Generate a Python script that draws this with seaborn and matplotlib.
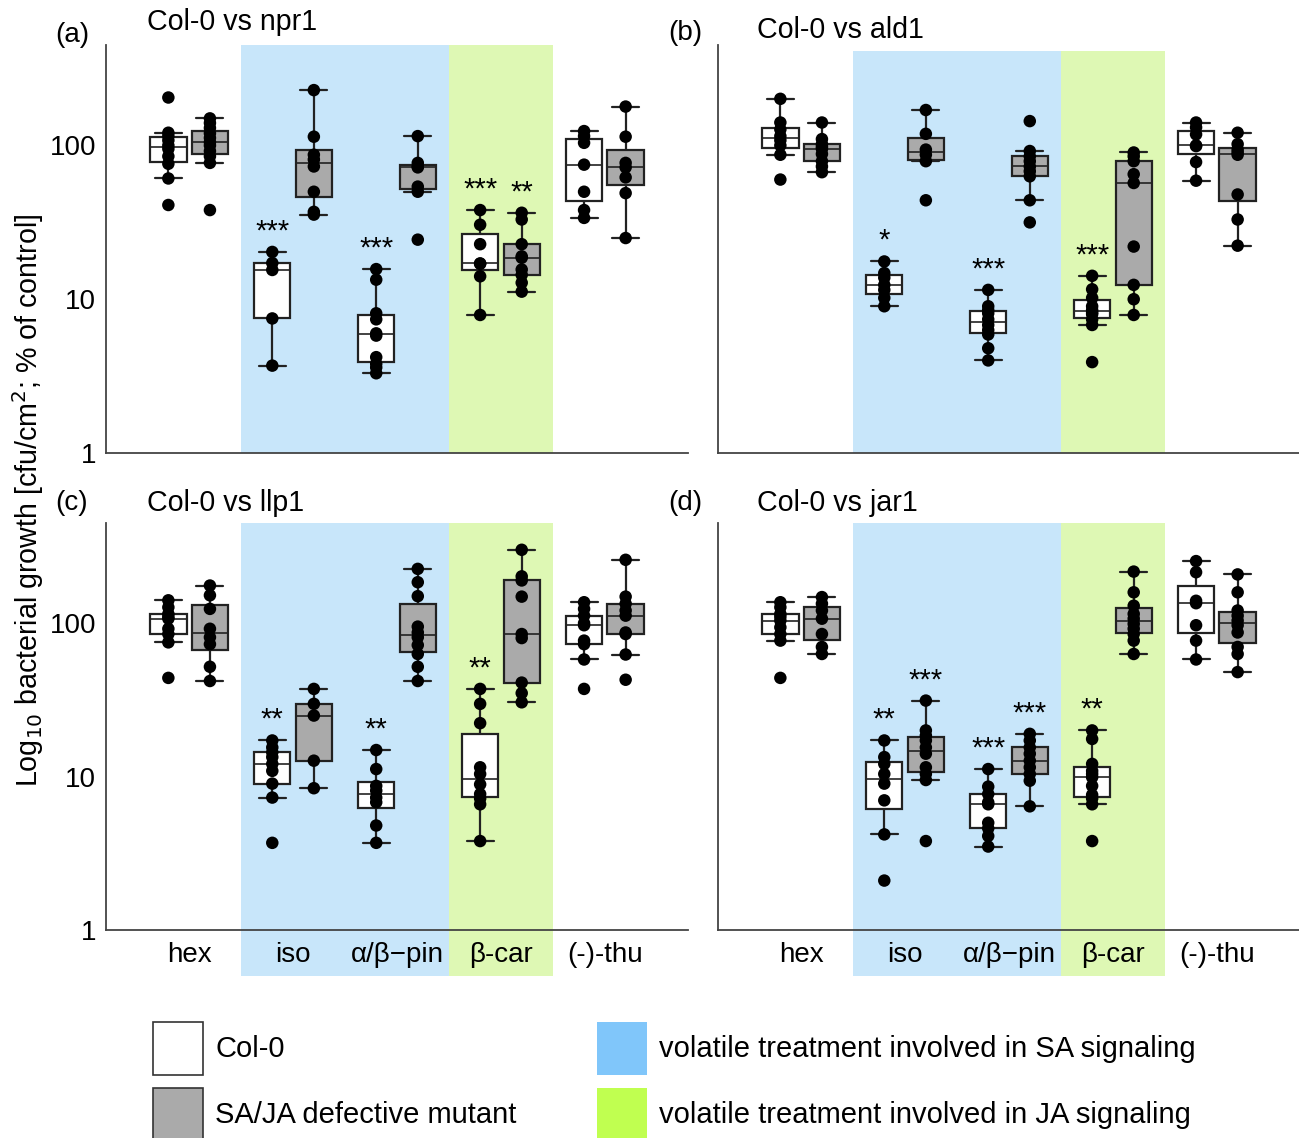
import numpy as np
import pandas as pd
import matplotlib
matplotlib.use("Agg")
import matplotlib.pyplot as plt
import seaborn as sns
from matplotlib.patches import Patch

sns.set_theme(style="white")
plt.rcParams["font.family"] = ["Liberation Sans", "DejaVu Sans"]
plt.rcParams["text.color"] = "black"

# ---------------- data ----------------
treatments = ["hex", "iso", "α/β−pin", "β-car", "(-)-thu"]
genotypes = ["Col-0", "SA/JA defective mutant"]
mutants = ["npr1", "ald1", "llp1", "jar1"]
panel_letters = ["(a)", "(b)", "(c)", "(d)"]

# values: % of control, one list per treatment (hex, iso, pin, car, thu)
npr1_col0 = [[205, 121, 115, 108, 100, 95, 85, 76, 61, 41],
             [20.3, 17.2, 15.5, 7.5, 3.7],
             [15.7, 13.4, 8.1, 7.4, 6.0, 5.8, 4.2, 3.8, 3.6, 3.3],
             [38, 30.5, 22.8, 17.1, 17, 14.1, 7.9],
             [124, 115, 104, 75, 50, 38, 33.8]]
npr1_mut = [[150, 140, 130, 120, 112, 105, 100, 92, 85, 77, 38],
            [229, 114, 87, 81, 73, 50, 37, 35.5],
            [115, 77, 73, 72, 54, 50, 24.4],
            [36.5, 33, 22.8, 19, 18.6, 15.6, 14.4, 12.8, 11.2],
            [179, 114, 77, 72, 62, 49, 25]]
ald1_col0 = [[201, 141, 127, 115, 108, 100, 87, 60],
             [17.6, 14.8, 13.8, 12.4, 11.5, 10.2, 9.0],
             [11.5, 9.0, 8.5, 8.1, 7.4, 6.8, 6.3, 5.9, 4.8, 4.0],
             [14.2, 11.6, 10.2, 9.0, 8.5, 8.2, 8.0, 7.4, 6.8, 3.9],
             [141, 131, 118, 100, 99, 78, 59]]
ald1_mut = [[141, 110, 102, 98, 95, 88, 79, 73, 67],
            [170, 119, 94, 87, 79, 44],
            [144, 92, 85, 79, 73, 68, 63, 44, 31.6],
            [90, 85, 79, 65, 57, 22, 12.4, 10, 7.9],
            [121, 102, 94, 90, 87, 48, 33, 22.3]]
llp1_col0 = [[141, 127, 115, 110, 107, 92, 85, 75, 44],
             [17.2, 15.5, 14.4, 13.4, 12.1, 10.9, 9.0, 7.3, 3.7],
             [14.9, 11.2, 8.7, 8.1, 7.3, 6.8, 4.8, 3.7],
             [37.3, 29.8, 22.3, 11.5, 10.4, 8.9, 7.7, 7.2, 6.6, 3.8],
             [137, 124, 112, 100, 97, 77, 73, 58, 37.3]]
llp1_mut = [[176, 152, 124, 92, 81, 73, 52, 42],
            [37.3, 29.8, 25, 12.7, 8.4],
            [226, 185, 150, 95, 87, 81, 72, 63, 52, 42],
            [301, 202, 190, 149, 85, 80, 41, 35, 30.5],
            [259, 149, 134, 121, 112, 87, 85, 62.5, 42.8]]
jar1_col0 = [[137, 127, 115, 110, 104, 94, 85, 77, 44],
             [17.2, 13.4, 12.1, 10.4, 9.0, 7.0, 4.2, 2.1],
             [11.2, 8.6, 7.7, 6.8, 6.6, 5.0, 4.6, 4.1, 3.5],
             [20, 17.6, 12.1, 10.9, 10.4, 9.9, 8.7, 7.6, 7.2, 6.6, 3.8],
             [254, 215, 140, 135, 97, 77, 58]]
jar1_mut = [[148, 134, 121, 107, 85, 70, 63],
            [31.3, 20, 18.5, 17.2, 15.5, 14.1, 11.5, 10.4, 9.5, 3.8],
            [19, 17.2, 15.5, 14.1, 12.7, 11.5, 10.4, 9.4, 6.4],
            [217, 159, 130, 115, 107, 99, 92, 85, 77, 63],
            [208, 159, 121, 112, 104, 97, 87, 70, 63, 48]]

# significance marks: (treatment, genotype, label)
npr1_stars = [("iso", "Col-0", "***"), ("α/β−pin", "Col-0", "***"),
              ("β-car", "Col-0", "***"), ("β-car", "SA/JA defective mutant", "**")]
ald1_stars = [("iso", "Col-0", "*"), ("α/β−pin", "Col-0", "***"),
              ("β-car", "Col-0", "***")]
llp1_stars = [("iso", "Col-0", "**"), ("α/β−pin", "Col-0", "**"),
              ("β-car", "Col-0", "**")]
jar1_stars = [("iso", "Col-0", "**"), ("iso", "SA/JA defective mutant", "***"),
              ("α/β−pin", "Col-0", "***"), ("α/β−pin", "SA/JA defective mutant", "***"),
              ("β-car", "Col-0", "**")]

panel_data = [(npr1_col0, npr1_mut, npr1_stars),
              (ald1_col0, ald1_mut, ald1_stars),
              (llp1_col0, llp1_mut, llp1_stars),
              (jar1_col0, jar1_mut, jar1_stars)]

# ---------------- style ----------------
box_fill = {"Col-0": "white", "SA/JA defective mutant": "#aaaaaa"}
dot_col = {"Col-0": "black", "SA/JA defective mutant": "black"}
sa_band = "#c8e6fa"
ja_band = "#def8b4"
sa_leg = "#80c6fa"
ja_leg = "#c0ff50"
FS = 20

W, H = 1299, 1138
fig = plt.figure(figsize=(W / 100, H / 100), dpi=100)

# axes rectangles in pixels: left, top, right, bottom
rects = [(106, 45, 688, 453), (718, 45, 1300, 453),
         (106, 523, 688, 930), (718, 523, 1300, 930)]
letter_pos = [(55, 35), (668, 33), (55, 503), (668, 503)]
title_pos = [(147, 22), (757, 30), (147, 503), (757, 503)]

for i, ((l, t, r, b), (col0, mut, stars)) in enumerate(zip(rects, panel_data)):
    ax = fig.add_axes([l / W, 1 - b / H, (r - l) / W, (b - t) / H])
    rows = []
    for g, vals in zip(genotypes, (col0, mut)):
        for tr, vs in zip(treatments, vals):
            for v in vs:
                rows.append((tr, g, v))
    df = pd.DataFrame(rows, columns=["treatment", "genotype", "value"])

    bottom_row = i >= 2
    left_col = i % 2 == 0
    ymin_band = -46 / (b - t) if bottom_row else 0.0
    ymax_band = 1.0 if i != 1 else (b - 51) / (b - t)
    for span, colr in (((0.5, 2.5), sa_band), ((2.5, 3.5), ja_band)):
        p = ax.axvspan(span[0], span[1], ymin=ymin_band, ymax=ymax_band,
                       color=colr, lw=0, zorder=0)
        p.set_clip_on(False)

    sns.boxplot(data=df, x="treatment", y="value", hue="genotype",
                order=treatments, hue_order=genotypes, palette=box_fill,
                saturation=1, width=0.8, gap=0.125, showfliers=False,
                linecolor="#222222", linewidth=1.6, log_scale=True,
                medianprops={"linewidth": 1.2}, capwidths=0.26,
                legend=False, ax=ax, zorder=2)
    sns.stripplot(data=df, x="treatment", y="value", hue="genotype",
                  order=treatments, hue_order=genotypes, palette=dot_col,
                  dodge=True, jitter=False, size=9, linewidth=0,
                  legend=False, ax=ax, zorder=3)

    for tr, g, lab in stars:
        xi = treatments.index(tr) + (-0.2 if g == "Col-0" else 0.2)
        top = max((col0 if g == "Col-0" else mut)[treatments.index(tr)])
        ax.text(xi, top * 1.36, lab, ha="center", va="center", fontsize=21)

    ax.set_yscale("log")
    ax.set_ylim(1, 450)
    ax.set_xlim(-0.8, 4.8)
    ax.set_yticks([1, 10, 100])
    if left_col:
        ax.set_yticklabels(["1", "10", "100"])
    else:
        ax.set_yticklabels([])
    ax.minorticks_off()
    ax.set_xticks(range(len(treatments)))
    if bottom_row:
        ax.set_xticklabels(treatments)
    else:
        ax.set_xticklabels([])
    ax.set_xlabel("")
    ax.set_ylabel("")
    ax.tick_params(axis="both", direction="in", length=5.5, width=1.0,
                   color="#333333", labelsize=FS, labelcolor="black")
    ax.tick_params(axis="x", pad=9)
    ax.tick_params(axis="y", pad=7)
    for s in ("top", "right"):
        ax.spines[s].set_visible(False)
    for s in ("left", "bottom"):
        ax.spines[s].set_color("#444444")
        ax.spines[s].set_linewidth(1.3)
    ax.patch.set_alpha(0)

    lx, ly = letter_pos[i]
    fig.text(lx / W, 1 - ly / H, panel_letters[i], fontsize=FS, ha="left", va="center")
    tx, ty = title_pos[i]
    fig.text(tx / W, 1 - ty / H, f"Col-0 vs {mutants[i]}", fontsize=20.6,
             ha="left", va="center")

fig.text(28 / W, 1 - 500 / H,
         "Log$_{10}$ bacterial growth [cfu/cm$^2$; % of control]",
         rotation=90, ha="center", va="center", fontsize=20.6)

handles = [Patch(facecolor="white", edgecolor="#333333", lw=1.2),
           Patch(facecolor="#aaaaaa", edgecolor="#333333", lw=1.2),
           Patch(facecolor=sa_leg, edgecolor="none"),
           Patch(facecolor=ja_leg, edgecolor="none")]
labels = ["Col-0", "SA/JA defective mutant",
          "volatile treatment involved in SA signaling",
          "volatile treatment involved in JA signaling"]
fig.legend(handles, labels, loc="upper left", bbox_to_anchor=(153 / W, 1 - 1022 / H),
           ncol=2, frameon=False, fontsize=21, handlelength=1.72, handleheight=2.4,
           handletextpad=0.42, columnspacing=2.75, labelspacing=0.45,
           borderpad=0, borderaxespad=0)

fig.savefig("out.png", dpi=100)
